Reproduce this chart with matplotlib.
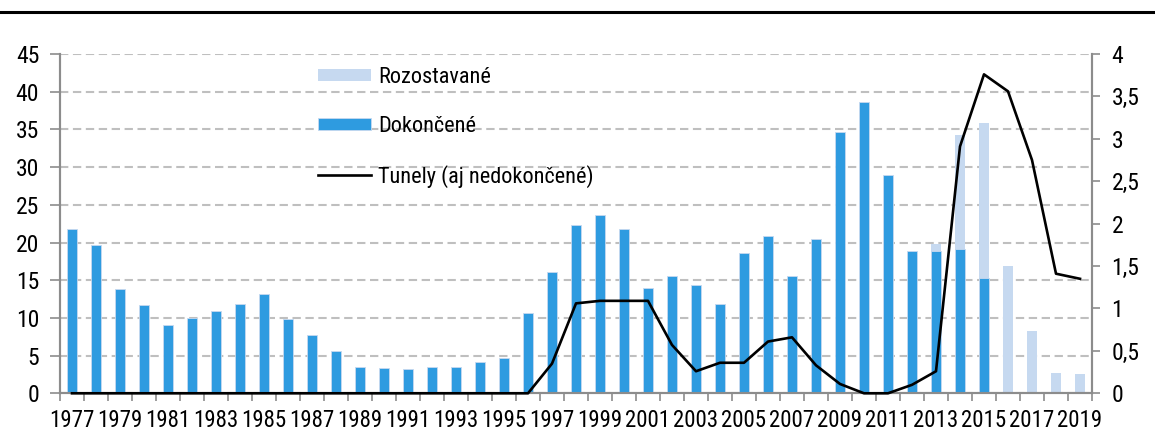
import numpy as np
import matplotlib
matplotlib.use("Agg")
from matplotlib import pyplot as plt
from matplotlib.lines import Line2D
from matplotlib.ticker import FuncFormatter

years = list(range(1977, 2020))

# Dokoncene (km), left axis
dokoncene = [21.8, 19.7, 13.8, 11.7, 9.1, 10.0, 10.9, 11.8, 13.2, 9.8,
             7.7, 5.6, 3.5, 3.3, 3.2, 3.5, 3.5, 4.1, 4.7, 10.6,
             16.1, 22.3, 23.6, 21.8, 13.9, 15.5, 14.3, 11.9, 18.6, 20.8,
             15.5, 20.5, 34.7, 38.7, 29.0, 18.9, 18.9, 19.2, 15.3, 0,
             0, 0, 0]

# Rozostavane (km), left axis
rozostavane = [0] * 36 + [19.8, 34.2, 35.9, 16.9, 8.2, 2.7, 2.5]

# Tunely (aj nedokoncene), right axis
tunely = [0] * 20 + [0.35, 1.06, 1.09, 1.09, 1.09, 0.57, 0.26, 0.36, 0.36, 0.61,
                     0.66, 0.33, 0.11, 0.0, 0.0, 0.10, 0.26, 2.91, 3.76, 3.56,
                     2.75, 1.41, 1.35]

darkBlue = '#2e9be0'
lightBlue = '#c6d9f0'
gridGray = '#bfbfbf'
axisGray = '#8c8c8c'


def comma(v, pos):
    s = ('%g' % v)
    return s.replace('.', ',')


def main():
    plt.rcParams['font.family'] = ['Roboto Condensed', 'DejaVu Sans']

    fig = plt.figure(figsize=(11.55, 4.45), dpi=100)
    ax = fig.add_axes([60/1155, 1 - 393.3/445, (1092 - 60)/1155, (393.3 - 54)/445])
    ax2 = ax.twinx()

    x = np.arange(len(years))
    width = 0.38

    ax.set_axisbelow(True)
    ax.yaxis.grid(True, color=gridGray, linestyle=(0, (4, 2.2)), linewidth=1.5)
    b1 = ax.bar(x, rozostavane, width, color=lightBlue, label='Rozostavané', zorder=2)
    b2 = ax.bar(x, dokoncene, width, color=darkBlue, edgecolor=lightBlue, linewidth=0.6,
                label='Dokončené', zorder=3)
    l1, = ax2.plot(x, tunely, color='black', linewidth=1.9, label='Tunely (aj nedokončené)',
                   clip_on=False, zorder=5)

    ax.set_xlim(-0.5, len(years) - 0.5)
    ax.set_ylim(0, 45)
    ax.set_yticks(np.arange(0, 46, 5))
    ax2.set_ylim(0, 4)
    ax2.set_yticks(np.arange(0, 4.01, 0.5))
    ax2.yaxis.set_major_formatter(FuncFormatter(comma))

    ax.set_xticks(x[::2])
    ax.set_xticklabels([str(y) for y in years[::2]])
    ax.set_xticks(np.arange(-0.5, len(years), 1), minor=True)
    ax.tick_params(axis='x', which='major', length=0, pad=11, labelsize=16.5)
    ax.tick_params(axis='x', which='minor', length=6, width=1.2, color=axisGray)
    ax.tick_params(axis='y', length=7, width=1.2, color=axisGray, pad=8, labelsize=17)
    ax2.tick_params(axis='y', length=6, width=1.2, color=axisGray, pad=8, labelsize=17)

    for a in (ax, ax2):
        a.spines['top'].set_visible(False)
        for s in ('left', 'right', 'bottom'):
            a.spines[s].set_color(axisGray)
            a.spines[s].set_linewidth(1.5)

    ax2.legend(handles=[b1, b2, l1], loc='upper left', frameon=False,
               bbox_to_anchor=(318/1155, 1 - 67/445), bbox_transform=fig.transFigure,
               borderpad=0, borderaxespad=0, fontsize=16, labelspacing=1.25,
               handlelength=2.4, handleheight=0.5, handletextpad=0.3)

    fig.add_artist(Line2D([0, 1], [1 - 12/445, 1 - 12/445], transform=fig.transFigure,
                          color='black', linewidth=2.2))

    fig.savefig('out.png', dpi=100)


if __name__ == "__main__":
    main()
